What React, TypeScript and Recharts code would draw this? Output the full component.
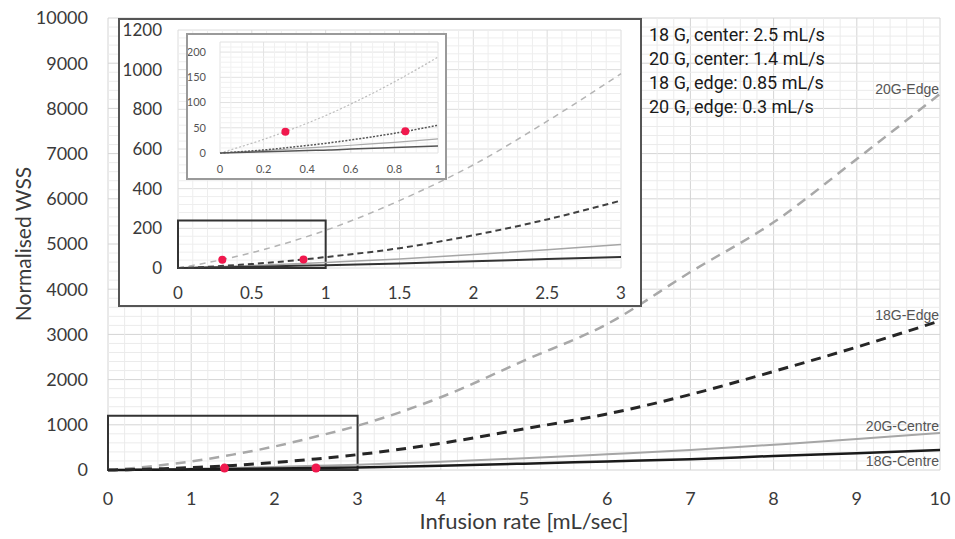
import React from 'react';
import {
  ComposedChart,
  Line,
  Scatter,
  XAxis,
  YAxis,
  CartesianGrid,
  ReferenceLine,
  ReferenceArea,
  Label,
} from 'recharts';

// Infusion rate samples (mL/s) shared by every series
const rate = [0, 0.2, 0.4, 0.5, 0.6, 0.8, 1, 1.5, 2, 2.5, 3, 4, 5, 6, 7, 8, 9, 10];

// Normalised wall shear stress per catheter gauge / position
const edge20G = [0, 27, 59, 77, 97, 141, 190, 340, 520, 740, 980, 1610, 2420, 3230, 4380, 5480, 6880, 8320];
const edge18G = [0, 6, 15, 20, 26, 39, 55, 100, 165, 245, 340, 590, 910, 1240, 1670, 2180, 2720, 3300];
const centre20G = [0, 4.6, 10, 12.5, 15.4, 21, 28, 46, 68, 92, 118, 184, 260, 348, 440, 560, 684, 820];
const centre18G = [0, 2.3, 5, 6, 8, 11, 14, 23, 34, 45, 56, 95, 140, 190, 240, 310, 372, 440];

// Operating points (rate, WSS)
const centreRates = [1.4, 2.5];
const centreWss = [42, 45];
const edgeRates = [0.3, 0.85];
const edgeWss = [42, 43];

const notes = [
  '18 G, center: 2.5 mL/s',
  '20 G, center: 1.4 mL/s',
  '18 G, edge: 0.85 mL/s',
  '20 G, edge: 0.3 mL/s',
];

// Tick labels
const mainXTicks = [0, 1, 2, 3, 4, 5, 6, 7, 8, 9, 10];
const mainYTicks = [0, 1000, 2000, 3000, 4000, 5000, 6000, 7000, 8000, 9000, 10000];
const insetXTicks = [0, 0.5, 1, 1.5, 2, 2.5, 3];
const insetYTicks = [0, 200, 400, 600, 800, 1000, 1200];
const zoomXTicks = [0, 0.2, 0.4, 0.6, 0.8, 1];
const zoomYTicks = [0, 50, 100, 150, 200];

const RED = '#f0184d';
const TICK_FONT = 'Lato, "Liberation Sans", sans-serif';
const TICK_COLOR = '#3a3a3a';

const rows = rate.map((x, i) => ({
  x,
  e20: edge20G[i],
  e18: edge18G[i],
  c20: centre20G[i],
  c18: centre18G[i],
}));
const centrePts = centreRates.map((x, i) => ({ x, y: centreWss[i] }));
const edgePts = edgeRates.map((x, i) => ({ x, y: edgeWss[i] }));

// minor grid positions between the major ticks
function minor(step: number, max: number, majors: number[]) {
  const out: number[] = [];
  for (let i = 1; i * step < max - 1e-9; i++) {
    const v = Math.round(i * step * 1000) / 1000;
    if (!majors.some((m) => Math.abs(m - v) < 1e-9)) out.push(v);
  }
  return out;
}

const mainXMinor = minor(0.2, 10, mainXTicks);
const mainYMinor = minor(200, 10000, mainYTicks);

const dot = (r: number) => (p: any) => <circle cx={p.cx} cy={p.cy} r={r} fill={RED} />;

function minorLines(xs: number[], ys: number[], color: string, prefix: string) {
  return [
    ...xs.map((v) => (
      <ReferenceLine key={`${prefix}x${v}`} x={v} stroke={color} strokeWidth={1} zIndex={-50} />
    )),
    ...ys.map((v) => (
      <ReferenceLine key={`${prefix}y${v}`} y={v} stroke={color} strokeWidth={1} zIndex={-50} />
    )),
  ];
}

const curveLabel = (top: number): React.CSSProperties => ({
  position: 'absolute',
  right: 16,
  top,
  fontFamily: '"Liberation Sans", Arial, sans-serif',
  fontSize: 14,
  lineHeight: '16px',
  color: '#555',
});

export default function App() {
  const insetRows = rows.filter((r) => r.x <= 3);
  const zoomRows = rows.filter((r) => r.x <= 1);

  return (
    <div
      style={{
        position: 'absolute',
        left: 0,
        top: 0,
        width: 955,
        height: 539,
        background: '#fff',
        overflow: 'hidden',
      }}
    >
      {/* Main chart, 0-10 mL/s */}
      <ComposedChart
        width={955}
        height={539}
        data={rows}
        margin={{ top: 18, right: 15, left: 0, bottom: 0 }}
      >
        <CartesianGrid stroke="#d4d4d4" strokeWidth={1} />
        {minorLines(mainXMinor, mainYMinor, '#ebebeb', 'm')}
        <XAxis
          type="number"
          dataKey="x"
          domain={[0, 10]}
          ticks={mainXTicks}
          tickLine={false}
          axisLine={false}
          height={69}
          tickMargin={16}
          tick={{ fill: TICK_COLOR, fontSize: 18, fontFamily: TICK_FONT }}
        >
          <Label
            value="Infusion rate [mL/sec]"
            position="insideBottom"
            offset={10}
            style={{ fill: TICK_COLOR, fontSize: 22, fontFamily: TICK_FONT }}
          />
        </XAxis>
        {/* short inner tick marks along the bottom and left edges */}
        <XAxis
          xAxisId="minor"
          type="number"
          dataKey="x"
          domain={[0, 10]}
          ticks={[...mainXMinor, ...mainXTicks]}
          mirror
          tick={false}
          tickSize={5}
          axisLine={false}
          tickLine={{ stroke: '#b5b5b5' }}
        />
        <YAxis
          type="number"
          domain={[0, 10000]}
          ticks={mainYTicks}
          tickLine={false}
          axisLine={false}
          width={108}
          tickMargin={14}
          tick={{ fill: TICK_COLOR, fontSize: 18, fontFamily: TICK_FONT }}
        >
          <Label
            content={(props: any) => {
              const vb = props.viewBox;
              const cx = vb.x + 22;
              const cy = vb.y + vb.height / 2;
              return (
                <text
                  x={cx}
                  y={cy}
                  transform={`rotate(-90, ${cx}, ${cy})`}
                  textAnchor="middle"
                  dominantBaseline="central"
                  fill={TICK_COLOR}
                  fontSize={21}
                  fontFamily={TICK_FONT}
                >
                  Normalised WSS
                </text>
              );
            }}
          />
        </YAxis>
        <YAxis
          yAxisId="minor"
          type="number"
          domain={[0, 10000]}
          ticks={[...mainYMinor, ...mainYTicks]}
          mirror
          tick={false}
          tickSize={5}
          axisLine={false}
          tickLine={{ stroke: '#b5b5b5' }}
        />
        <ReferenceArea x1={0} x2={3} y1={0} y2={1200} fill="none" fillOpacity={0} stroke="#333" strokeWidth={2} />
        <Line type="monotone" dataKey="c20" stroke="#a6a6a6" strokeWidth={2} dot={false} isAnimationActive={false} />
        <Line type="monotone" dataKey="c18" stroke="#1a1a1a" strokeWidth={2.5} dot={false} isAnimationActive={false} />
        <Line type="monotone" dataKey="e20" stroke="#a8a8a8" strokeWidth={2.5} strokeDasharray="10 7" dot={false} isAnimationActive={false} />
        <Line type="monotone" dataKey="e18" stroke="#262626" strokeWidth={3} strokeDasharray="10 7" dot={false} isAnimationActive={false} />
        <Scatter data={centrePts} dataKey="y" shape={dot(4.5)} isAnimationActive={false} />
      </ComposedChart>

      {/* Inset, 0-3 mL/s */}
      <div
        style={{
          position: 'absolute',
          left: 118,
          top: 18,
          width: 520,
          height: 285,
          border: '2px solid #555',
          background: '#fff',
        }}
      >
        <ComposedChart
          width={520}
          height={285}
          data={insetRows}
          margin={{ top: 10, right: 19, left: 0, bottom: 0 }}
        >
          <CartesianGrid stroke="#dcdcdc" strokeWidth={1} />
          {minorLines(minor(0.1, 3, insetXTicks), minor(40, 1200, insetYTicks), '#eeeeee', 'i')}
          <XAxis
            type="number"
            dataKey="x"
            domain={[0, 3]}
            ticks={insetXTicks}
            tickLine={false}
            axisLine={false}
            height={37}
            tickMargin={13}
            tick={{ fill: TICK_COLOR, fontSize: 17, fontFamily: TICK_FONT }}
          />
          <YAxis
            type="number"
            domain={[0, 1200]}
            ticks={insetYTicks}
            tickLine={false}
            axisLine={false}
            width={58}
            tickMargin={10}
            tick={{ fill: TICK_COLOR, fontSize: 17, fontFamily: TICK_FONT }}
          />
          <ReferenceArea x1={0} x2={1} y1={0} y2={240} fill="none" fillOpacity={0} stroke="#333" strokeWidth={2} />
          <Line type="monotone" dataKey="c20" stroke="#a6a6a6" strokeWidth={1.5} dot={false} isAnimationActive={false} />
          <Line type="monotone" dataKey="c18" stroke="#333" strokeWidth={2} dot={false} isAnimationActive={false} />
          <Line type="monotone" dataKey="e20" stroke="#b4b4b4" strokeWidth={1.5} strokeDasharray="6 5" dot={false} isAnimationActive={false} />
          <Line type="monotone" dataKey="e18" stroke="#404040" strokeWidth={2} strokeDasharray="6 4" dot={false} isAnimationActive={false} />
          <Scatter data={edgePts} dataKey="y" shape={dot(4)} isAnimationActive={false} />
        </ComposedChart>
      </div>

      {/* Nested zoom, 0-1 mL/s */}
      <div
        style={{
          position: 'absolute',
          left: 186,
          top: 33,
          width: 257,
          height: 143,
          border: '2px solid #9a9a9a',
          background: '#fff',
        }}
      >
        <ComposedChart
          width={257}
          height={143}
          data={zoomRows}
          margin={{ top: 7, right: 7, left: 0, bottom: 0 }}
        >
          <CartesianGrid stroke="#e2e2e2" strokeWidth={1} />
          {minorLines(minor(0.05, 1, zoomXTicks), minor(10, 220, zoomYTicks), '#f1f1f1', 'z')}
          <XAxis
            type="number"
            dataKey="x"
            domain={[0, 1]}
            ticks={zoomXTicks}
            tickLine={false}
            axisLine={false}
            height={25}
            tickMargin={6}
            tick={{ fill: '#555', fontSize: 11, fontFamily: TICK_FONT }}
          />
          <YAxis
            type="number"
            domain={[0, 220]}
            ticks={zoomYTicks}
            tickLine={false}
            axisLine={false}
            width={32}
            tickMargin={8}
            tick={{ fill: '#555', fontSize: 11, fontFamily: TICK_FONT }}
          />
          <Line type="monotone" dataKey="c20" stroke="#aaa" strokeWidth={1.2} dot={false} isAnimationActive={false} />
          <Line type="monotone" dataKey="c18" stroke="#555" strokeWidth={1.5} dot={false} isAnimationActive={false} />
          <Line type="monotone" dataKey="e20" stroke="#bdbdbd" strokeWidth={1.2} strokeDasharray="2 2" dot={false} isAnimationActive={false} />
          <Line type="monotone" dataKey="e18" stroke="#555" strokeWidth={1.5} strokeDasharray="2 1.5" dot={false} isAnimationActive={false} />
          <Scatter data={edgePts} dataKey="y" shape={dot(4)} isAnimationActive={false} />
        </ComposedChart>
      </div>

      {/* Operating-point notes */}
      <div
        style={{
          position: 'absolute',
          left: 649,
          top: 23,
          fontFamily: 'Roboto, sans-serif',
          fontSize: 18,
          lineHeight: '24px',
          color: '#1a1a1a',
        }}
      >
        {notes.map((n) => (
          <div key={n}>{n}</div>
        ))}
      </div>

      {/* Curve names at the right end */}
      <div style={curveLabel(81)}>20G-Edge</div>
      <div style={curveLabel(307)}>18G-Edge</div>
      <div style={curveLabel(418)}>20G-Centre</div>
      <div style={curveLabel(453)}>18G-Centre</div>
    </div>
  );
}
